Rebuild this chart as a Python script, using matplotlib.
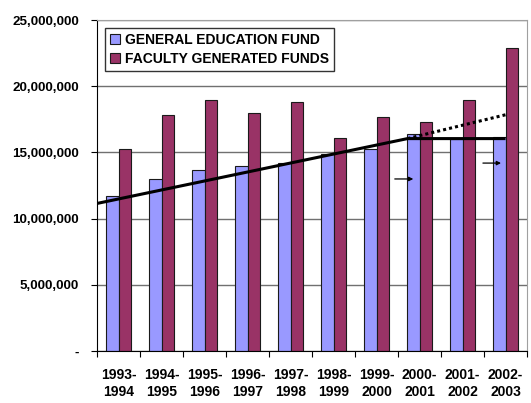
import numpy as np
import matplotlib.pyplot as plt
from matplotlib.ticker import FuncFormatter

years = ["1993-\n1994", "1994-\n1995", "1995-\n1996", "1996-\n1997", "1997-\n1998",
         "1998-\n1999", "1999-\n2000", "2000-\n2001", "2001-\n2002", "2002-\n2003"]
gen_ed = [11.7e6, 13.0e6, 13.65e6, 14.0e6, 14.2e6, 14.9e6, 15.3e6, 16.4e6, 16.0e6, 16.2e6]
faculty = [15.3e6, 17.8e6, 19.0e6, 17.95e6, 18.85e6, 16.1e6, 17.7e6, 17.3e6, 19.0e6, 22.9e6]

# trend lines (x in category units, y in dollars)
trend_x = [-0.5, 6.72, 9.0]
trend_y = [11.15e6, 16.05e6, 16.05e6]
proj_x = [6.72, 9.0]
proj_y = [16.05e6, 17.85e6]
arrows = [(6.36, 6.92, 13.0e6), (8.41, 8.96, 14.2e6)]

plt.rcParams['font.family'] = ['Liberation Sans', 'DejaVu Sans']
plt.rcParams['font.weight'] = 'bold'

fig = plt.figure(figsize=(5.31, 4.03), dpi=100)
ax = fig.add_axes([0.1827, 0.129, 0.8098, 0.821])

x = np.arange(len(years))
w = 0.29
ax.bar(x - w / 2, gen_ed, w, color='#9999FF', edgecolor='#1a1a1a', linewidth=0.8,
       label='GENERAL EDUCATION FUND', zorder=2)
ax.bar(x + w / 2, faculty, w, color='#993366', edgecolor='#1a1a1a', linewidth=0.8,
       label='FACULTY GENERATED FUNDS', zorder=2)

ax.plot(trend_x, trend_y, color='black', linewidth=2.2, zorder=3, solid_capstyle='butt')
ax.plot(proj_x, proj_y, color='black', linewidth=2.2, linestyle=(0, (1, 1)), zorder=3)
for x0, x1, yv in arrows:
    ax.annotate('', xy=(x1, yv), xytext=(x0, yv),
                arrowprops=dict(arrowstyle='-|>', color='black', lw=0.9, mutation_scale=6),
                zorder=4)

ax.set_xlim(-0.5, 9.5)
ax.set_ylim(0, 25e6)
ax.set_yticks(np.arange(0, 25e6 + 1, 5e6))
ax.yaxis.set_major_formatter(FuncFormatter(lambda v, p: '-' if v == 0 else f'{int(v):,}'))
ax.grid(axis='y', color='#707070', linewidth=1, zorder=0)
ax.set_axisbelow(True)

ax.set_xticks(np.arange(-0.5, 10, 1))
ax.set_xticklabels([])
ax.set_xticks(x, minor=True)
ax.set_xticklabels(years, minor=True, fontsize=10, fontweight='bold', linespacing=1.3)
ax.tick_params(axis='x', which='minor', length=0, pad=12)
ax.tick_params(axis='x', which='major', length=4, direction='out')
ax.tick_params(axis='y', length=4, direction='out', labelsize=9.6, pad=9)

for s in ['top', 'right']:
    ax.spines[s].set_color('#a0a0a0')
for s in ['left', 'bottom']:
    ax.spines[s].set_color('black')

leg = ax.legend(loc='upper left', bbox_to_anchor=(0.019, 0.976),
                prop={'weight': 'bold', 'size': 10}, frameon=True, fancybox=False,
                edgecolor='black', handlelength=0.7, handleheight=0.7,
                handletextpad=0.4, borderpad=0.35, labelspacing=0.35, borderaxespad=0)
leg.get_frame().set_linewidth(1)

fig.savefig('out.png', dpi=100)
